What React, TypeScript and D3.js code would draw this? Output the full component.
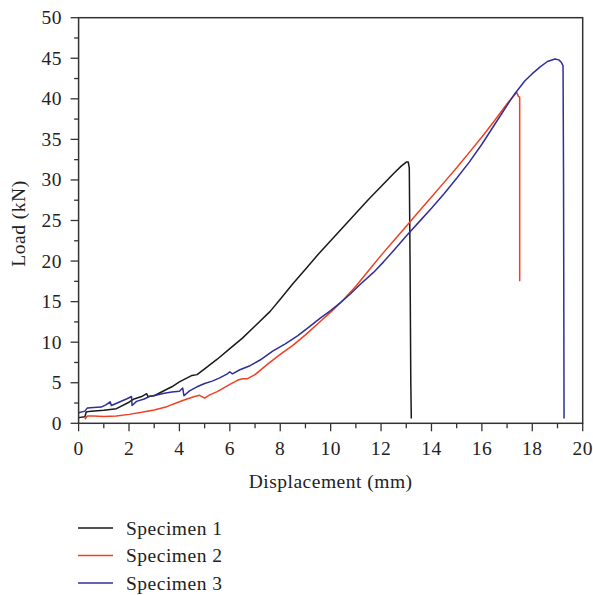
import React from "react";
import * as d3 from "d3";

const xTicks = [0, 2, 4, 6, 8, 10, 12, 14, 16, 18, 20];
const yTicks = [0, 5, 10, 15, 20, 25, 30, 35, 40, 45, 50];
const seriesNames = ["Specimen 1", "Specimen 2", "Specimen 3"];
const seriesColors = ["#1a1a1a", "#f0401f", "#2f2f98"];

const spec1: [number, number][] = [
  [0, 0.7], [0.25, 0.8], [0.3, 1.4], [0.5, 1.5], [1.0, 1.6], [1.5, 1.8], [2.0, 2.6], [2.2, 3.0],
  [2.5, 3.3], [2.7, 3.65], [2.75, 3.3], [3.0, 3.4], [3.5, 4.2], [3.7, 4.5], [4.0, 5.1], [4.5, 5.9],
  [4.7, 6.0], [5.0, 6.7], [5.5, 7.9], [6.0, 9.2], [6.5, 10.5], [7.0, 12.0], [7.6, 13.8], [8.0, 15.3],
  [8.5, 17.2], [9.0, 19.0], [9.5, 20.8], [10.0, 22.5], [10.5, 24.2], [11.0, 25.9], [11.5, 27.6],
  [12.0, 29.2], [12.5, 30.8], [12.8, 31.7], [13.0, 32.2], [13.08, 32.2], [13.12, 31.5], [13.15, 20],
  [13.18, 5], [13.2, 0.6],
];

const spec2: [number, number][] = [
  [0.25, 0.5], [0.35, 0.9], [0.6, 0.9], [1.0, 0.85], [1.5, 0.9], [2.0, 1.1], [2.5, 1.35], [3.0, 1.65],
  [3.5, 2.05], [4.0, 2.65], [4.3, 3.0], [4.6, 3.3], [4.8, 3.45], [5.0, 3.1], [5.2, 3.5], [5.5, 3.9],
  [6.0, 4.8], [6.3, 5.3], [6.5, 5.5], [6.7, 5.5], [7.0, 6.0], [7.5, 7.3], [8.0, 8.5], [8.5, 9.6],
  [9.0, 10.9], [9.5, 12.3], [10.0, 13.7], [10.5, 15.2], [11.0, 16.9], [11.5, 18.8], [12.0, 20.7],
  [12.5, 22.5], [13.0, 24.3], [13.5, 26.1], [14.0, 27.9], [14.5, 29.7], [15.0, 31.5], [15.5, 33.4],
  [16.0, 35.3], [16.5, 37.3], [17.0, 39.4], [17.3, 40.5], [17.38, 40.8], [17.45, 40.3], [17.5, 40.2],
  [17.5, 17.5],
];

const spec3: [number, number][] = [
  [0, 1.3], [0.25, 1.5], [0.35, 1.9], [0.6, 1.95], [0.9, 2.0], [1.1, 2.3], [1.25, 2.65], [1.3, 2.2],
  [1.6, 2.6], [1.9, 3.0], [2.1, 3.3], [2.12, 2.2], [2.3, 2.7], [2.6, 3.0], [2.85, 3.35], [3.1, 3.5],
  [3.4, 3.7], [3.7, 3.85], [4.0, 3.95], [4.13, 4.35], [4.18, 3.4], [4.4, 4.0], [4.7, 4.5], [5.0, 4.9],
  [5.3, 5.2], [5.6, 5.6], [5.9, 6.1], [6.0, 6.35], [6.1, 6.1], [6.4, 6.6], [6.8, 7.1], [7.2, 7.8],
  [7.7, 8.9], [8.2, 9.8], [8.7, 10.8], [9.2, 12.0], [9.6, 13.0], [10.0, 13.9], [10.4, 14.9],
  [10.8, 16.0], [11.2, 17.2], [11.7, 18.6], [12.1, 19.9], [12.5, 21.3], [13.0, 23.1], [13.5, 24.8],
  [14.0, 26.5], [14.5, 28.3], [15.0, 30.2], [15.5, 32.2], [16.0, 34.4], [16.5, 36.8], [17.0, 39.2],
  [17.3, 40.6], [17.7, 42.2], [18.0, 43.1], [18.3, 43.9], [18.6, 44.6], [18.9, 44.9], [19.05, 44.8],
  [19.15, 44.5], [19.22, 44.1], [19.24, 30], [19.26, 0.6],
];

const series = [spec1, spec2, spec3];

export default function App() {
  const W = 593, H = 595;
  const left = 78.6, right = 582.7, top = 17.7, bottom = 423.3;
  const x = d3.scaleLinear().domain([0, 20]).range([left, right]);
  const y = d3.scaleLinear().domain([0, 50]).range([bottom, top]);
  const line = d3.line<[number, number]>().x((d) => x(d[0])).y((d) => y(d[1]));
  const font = "'Liberation Serif', 'DejaVu Serif', serif";
  const axisColor = "#333";
  const xMinor = d3.range(1, 20, 2);
  const yMinor = d3.range(2.5, 50, 5);
  const fs = 19.5;
  const ls = 0.5;

  return (
    <svg width={W} height={H} style={{ position: "absolute", left: 0, top: 0, background: "#fff" }} fontFamily={font}>
      <rect x={0} y={0} width={W} height={H} fill="#fff" />
      <g>
        {series.map((s, i) => (
          <path key={i} d={line(s) || ""} fill="none" stroke={seriesColors[i]} strokeWidth={1.5} strokeLinejoin="round" />
        ))}
      </g>
      <rect x={left} y={top} width={right - left} height={bottom - top} fill="none" stroke={axisColor} strokeWidth={1.5} />
      {xTicks.map((t) => (
        <g key={"xt" + t}>
          <line x1={x(t)} x2={x(t)} y1={bottom} y2={bottom + 8} stroke={axisColor} strokeWidth={1.3} />
          <text x={x(t)} y={455} textAnchor="middle" fontSize={fs} letterSpacing={ls} fill="#222">{t}</text>
        </g>
      ))}
      {xMinor.map((t) => (
        <line key={"xm" + t} x1={x(t)} x2={x(t)} y1={bottom} y2={bottom + 5} stroke={axisColor} strokeWidth={1.3} />
      ))}
      {yTicks.map((t) => (
        <g key={"yt" + t}>
          <line x1={left - 8} x2={left} y1={y(t)} y2={y(t)} stroke={axisColor} strokeWidth={1.3} />
          <text x={62} y={y(t) + 6.5} textAnchor="end" fontSize={fs} letterSpacing={ls} fill="#222">{t}</text>
        </g>
      ))}
      {yMinor.map((t) => (
        <line key={"ym" + t} x1={left - 4.5} x2={left} y1={y(t)} y2={y(t)} stroke={axisColor} strokeWidth={1.3} />
      ))}
      <text x={(left + right) / 2} y={488} textAnchor="middle" fontSize={fs} letterSpacing={ls} fill="#222">Displacement (mm)</text>
      <text transform={`translate(25,${(top + bottom) / 2 + 3}) rotate(-90)`} textAnchor="middle" fontSize={fs} letterSpacing={ls} fill="#222">Load (kN)</text>
      {seriesNames.map((n, i) => (
        <g key={n}>
          <line x1={78} x2={113} y1={528 + i * 27.5} y2={528 + i * 27.5} stroke={seriesColors[i]} strokeWidth={1.3} />
          <text x={126} y={534.5 + i * 27.5} fontSize={fs} letterSpacing={ls} fill="#222">{n}</text>
        </g>
      ))}
    </svg>
  );
}
